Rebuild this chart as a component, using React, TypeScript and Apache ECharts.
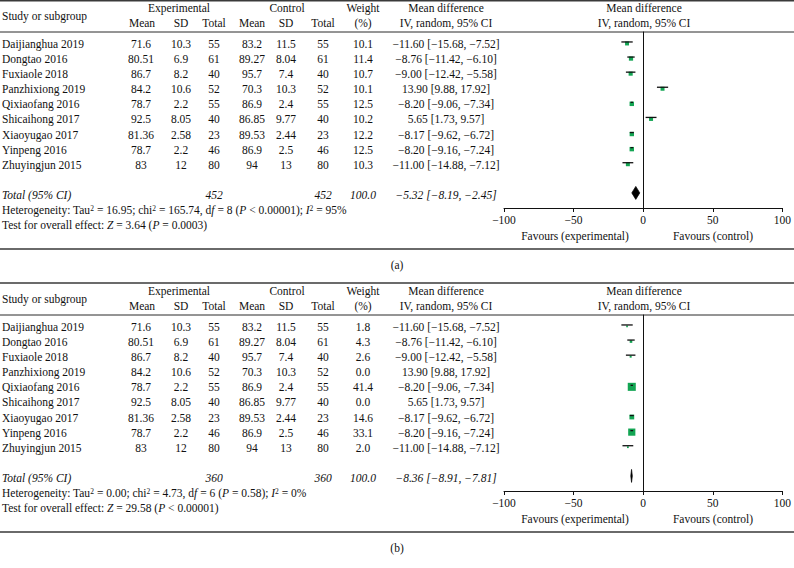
import React, { useEffect, useRef } from "react";
import * as echarts from "echarts";

// ---------------- data ----------------
const studies = [
  "Daijianghua 2019",
  "Dongtao 2016",
  "Fuxiaole 2018",
  "Panzhixiong 2019",
  "Qixiaofang 2016",
  "Shicaihong 2017",
  "Xiaoyugao 2017",
  "Yinpeng 2016",
  "Zhuyingjun 2015",
];
const expMean = [71.6, 80.51, 86.7, 84.2, 78.7, 92.5, 81.36, 78.7, 83];
const expSD = [10.3, 6.9, 8.2, 10.6, 2.2, 8.05, 2.58, 2.2, 12];
const expTotal = [55, 61, 40, 52, 55, 40, 23, 46, 80];
const ctrlMean = [83.2, 89.27, 95.7, 70.3, 86.9, 86.85, 89.53, 86.9, 94];
const ctrlSD = [11.5, 8.04, 7.4, 10.3, 2.4, 9.77, 2.44, 2.5, 13];
const ctrlTotal = [55, 61, 40, 52, 55, 40, 23, 46, 80];
const meanDiff = [-11.6, -8.76, -9.0, 13.9, -8.2, 5.65, -8.17, -8.2, -11.0];
const ciLow = [-15.68, -11.42, -12.42, 9.88, -9.06, 1.73, -9.62, -9.16, -14.88];
const ciHigh = [-7.52, -6.1, -5.58, 17.92, -7.34, 9.57, -6.72, -7.24, -7.12];
const weightA = [10.1, 11.4, 10.7, 10.1, 12.5, 10.2, 12.2, 12.5, 10.3];
const weightB = [1.8, 4.3, 2.6, 0.0, 41.4, 0.0, 14.6, 33.1, 2.0];

const panelLabels = ["(a)", "(b)"];
const totalExp = [452, 360];
const totalCtrl = [452, 360];
const totalWeight = [100.0, 100.0];
const pooledMD = [-5.32, -8.36];
const pooledLow = [-8.19, -8.91];
const pooledHigh = [-2.45, -7.81];
const hetTau2 = ["16.95", "0.00"];
const hetChi2 = ["165.74", "4.73"];
const hetDf = ["8", "6"];
const hetP = ["< 0.00001", "= 0.58"];
const hetI2 = ["95%", "0%"];
const testZ = ["3.64", "29.58"];
const testP = ["= 0.0003", "< 0.00001"];

const axisMin = -100;
const axisMax = 100;
const axisStep = 50;

// ---------------- layout / style ----------------
const FONT = "Liberation Serif";
const FS = 11.5;
const INK = "#111111";
const GREEN = "#13a553";
const PANEL_OFFSET = [0, 283];
const GRID_LEFT = 504;
const GRID_W = 279;
const GRID_TOP = 32;
const GRID_H = 176;
const Y_MIN = -0.66;
const Y_MAX = 11.0;
const PITCH = GRID_H / (Y_MAX - Y_MIN);
const COLS = [141, 181, 214, 252, 286, 323, 363, 446];
const FOREST_CX = 644;

const minus = (s: string) => s.replace(/-/g, "\u2212");
const f2 = (v: number) => minus(v.toFixed(2));
const ciText = (m: number, l: number, h: number) => `${f2(m)} [${f2(l)}, ${f2(h)}]`;

function text(x: number, y: number, str: string, align = "center", extra: any = {}) {
  return {
    type: "text",
    x,
    y,
    silent: true,
    style: {
      text: str,
      fontFamily: FONT,
      fontSize: FS,
      fill: INK,
      align,
      verticalAlign: "middle",
      ...extra,
    },
  };
}

function hline(y: number, color: string, width: number) {
  return {
    type: "line",
    silent: true,
    shape: { x1: 0, y1: y, x2: 794, y2: y },
    style: { stroke: color, lineWidth: width },
  };
}

const base = { fontFamily: FONT, fontSize: FS, fill: INK };
const rich = {
  n: { ...base },
  i: { ...base, fontStyle: "italic" },
  s: { fontFamily: FONT, fontSize: 7.5, fill: INK, verticalAlign: "top" },
};

function panelGraphics(p: number) {
  const off = PANEL_OFFSET[p];
  const headerLine = GRID_TOP + off;
  const top = GRID_TOP + off;
  const rowY = (i: number) => top + (i - Y_MIN) * PITCH + 2;
  const weights = p === 0 ? weightA : weightB;
  const g: any[] = [];
  g.push(hline(off + (p === 0 ? 0.8 : 0), "#3a3a3a", 1.5));
  g.push(hline(headerLine, "#2a2a2a", 1));
  g.push(hline(249 + off, "#6a6a6a", 2));

  // headers
  const h1 = headerLine - 24;
  const h2 = headerLine - 9.5;
  g.push(text(2, headerLine - 16, "Study or subgroup", "left"));
  g.push(text(179, h1, "Experimental"));
  g.push(text(287, h1, "Control"));
  g.push(text(363, h1, "Weight"));
  g.push(text(COLS[7], h1, "Mean difference"));
  g.push(text(FOREST_CX, h1, "Mean difference"));
  ["Mean", "SD", "Total", "Mean", "SD", "Total", "(%)", "IV, random, 95% CI"].forEach((s, k) =>
    g.push(text(COLS[k] + (k === 0 ? 1 : 0), h2, s))
  );
  g.push(text(FOREST_CX, h2, "IV, random, 95% CI"));

  // rows
  studies.forEach((name, i) => {
    const y = rowY(i);
    g.push(text(2, y, name, "left"));
    const vals = [
      String(expMean[i]),
      String(expSD[i]),
      String(expTotal[i]),
      String(ctrlMean[i]),
      String(ctrlSD[i]),
      String(ctrlTotal[i]),
      weights[i].toFixed(1),
      ciText(meanDiff[i], ciLow[i], ciHigh[i]),
    ];
    vals.forEach((v, k) => g.push(text(COLS[k], y, v)));
  });

  // totals
  const ty = rowY(10);
  const it = { fontStyle: "italic" };
  g.push(text(2, ty, "Total (95% CI)", "left", it));
  g.push(text(COLS[2], ty, String(totalExp[p]), "center", it));
  g.push(text(COLS[5], ty, String(totalCtrl[p]), "center", it));
  g.push(text(COLS[6], ty, totalWeight[p].toFixed(1), "center", it));
  g.push(text(COLS[7], ty, ciText(pooledMD[p], pooledLow[p], pooledHigh[p]), "center", it));

  g.push({
    type: "text",
    x: 2,
    y: rowY(11),
    silent: true,
    style: {
      text: `{n|Heterogeneity: Tau}{s|2}{n| = ${hetTau2[p]}; chi}{s|2}{n| = ${hetChi2[p]}, d}{i|f}{n| = ${hetDf[p]} (}{i|P}{n| ${hetP[p]}); }{i|I}{s|2}{n| = ${hetI2[p]}}`,
      rich,
      ...base,
      align: "left",
      verticalAlign: "middle",
    },
  });
  g.push({
    type: "text",
    x: 2,
    y: rowY(12),
    silent: true,
    style: {
      text: `{n|Test for overall effect: }{i|Z}{n| = ${testZ[p]} (}{i|P}{n| ${testP[p]})}`,
      rich,
      ...base,
      align: "left",
      verticalAlign: "middle",
    },
  });

  // favours
  const fy = top + GRID_H + 28;
  g.push(text(575, fy, "Favours (experimental)"));
  g.push(text(713, fy, "Favours (control)"));

  g.push(text(397, 249 + off + 16, panelLabels[p]));
  return g;
}

function studySeries(p: number) {
  const weights = p === 0 ? weightA : weightB;
  const data: number[][] = [];
  studies.forEach((_, i) => {
    if (weights[i] > 0) data.push([meanDiff[i], ciLow[i], ciHigh[i], i, weights[i]]);
  });
  return {
    type: "custom",
    xAxisIndex: p,
    yAxisIndex: p,
    encode: { x: [0, 1, 2], y: 3 },
    data,
    silent: true,
    renderItem: (params: any, api: any) => {
      const yv = api.value(3);
      const c = api.coord([api.value(0), yv]);
      const l = api.coord([api.value(1), yv]);
      const h = api.coord([api.value(2), yv]);
      const s = 1.25 * Math.sqrt(api.value(4));
      return {
        type: "group",
        children: [
          {
            type: "rect",
            shape: { x: c[0] - s / 2, y: c[1] - s / 2 + 1.5, width: s, height: s },
            style: { fill: GREEN },
          },
          {
            type: "line",
            shape: { x1: l[0], y1: l[1], x2: h[0], y2: h[1] },
            style: { stroke: "#111", lineWidth: 1.3 },
          },
        ],
      };
    },
  };
}

function diamondSeries(p: number) {
  return {
    type: "custom",
    xAxisIndex: p,
    yAxisIndex: p,
    encode: { x: [0, 1, 2], y: 3 },
    data: [[pooledMD[p], pooledLow[p], pooledHigh[p], 10]],
    silent: true,
    renderItem: (params: any, api: any) => {
      const yv = api.value(3);
      const c = api.coord([api.value(0), yv]);
      const l = api.coord([api.value(1), yv]);
      const h = api.coord([api.value(2), yv]);
      const hh = 6.5;
      return {
        type: "polygon",
        shape: {
          points: [
            [l[0], l[1]],
            [c[0], c[1] - hh],
            [h[0], h[1]],
            [c[0], c[1] + hh],
          ],
        },
        style: { fill: "#000", stroke: "#000", lineWidth: 0.7 },
      };
    },
  };
}

export default function App() {
  const ref = useRef<HTMLDivElement>(null);
  useEffect(() => {
    if (!ref.current) return;
    const chart = echarts.init(ref.current, undefined, { renderer: "svg" });
    const option: any = {
      animation: false,
      backgroundColor: "#ffffff",
      grid: [0, 1].map((p) => ({
        left: GRID_LEFT,
        top: GRID_TOP + PANEL_OFFSET[p],
        width: GRID_W,
        height: GRID_H,
        containLabel: false,
      })),
      xAxis: [0, 1].map((p) => ({
        type: "value",
        gridIndex: p,
        min: axisMin,
        max: axisMax,
        interval: axisStep,
        axisLine: { show: true, onZero: false, lineStyle: { color: "#111", width: 1 } },
        axisTick: { show: true, length: 4, lineStyle: { color: "#111" } },
        axisLabel: {
          margin: 6,
          fontFamily: FONT,
          fontSize: FS,
          color: INK,
          formatter: (v: number) => minus(String(v)),
        },
        splitLine: { show: false },
      })),
      yAxis: [0, 1].map((p) => ({
        type: "value",
        gridIndex: p,
        inverse: true,
        min: Y_MIN,
        max: Y_MAX,
        axisLine: { show: true, onZero: true, lineStyle: { color: "#111", width: 1 } },
        axisTick: { show: false },
        axisLabel: { show: false },
        splitLine: { show: false },
      })),
      series: [studySeries(0), diamondSeries(0), studySeries(1), diamondSeries(1)],
      graphic: [...panelGraphics(0), ...panelGraphics(1)],
    };
    chart.setOption(option);
    return () => chart.dispose();
  }, []);
  return (
    <div
      ref={ref}
      style={{ position: "fixed", left: 0, top: 0, width: 794, height: 568, background: "#fff" }}
    />
  );
}
